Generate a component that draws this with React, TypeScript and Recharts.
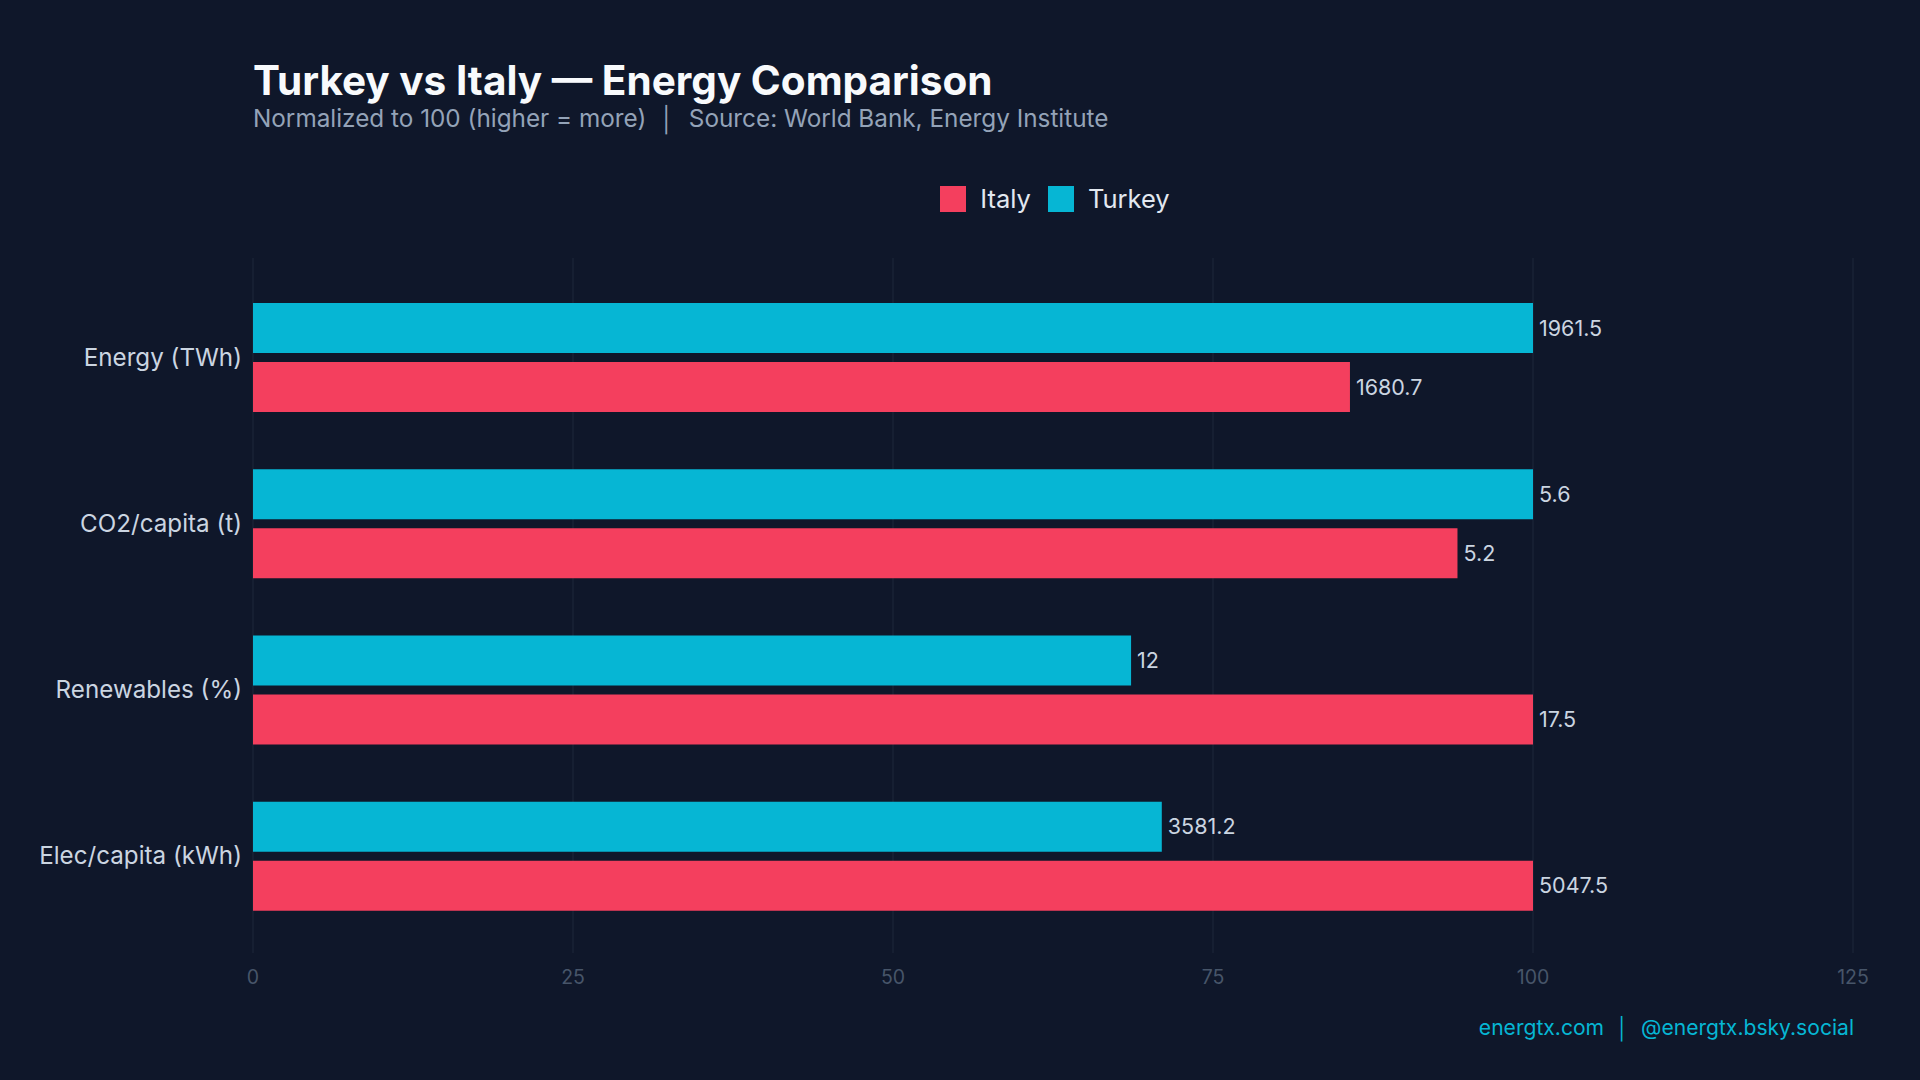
import { Bar, BarChart, CartesianGrid, LabelList, XAxis, YAxis } from "recharts";

const categories = [
  "Energy (TWh)",
  "CO2/capita (t)",
  "Renewables (%)",
  "Elec/capita (kWh)",
];
// normalized scores (leader = 100)
const turkeyScore = [100, 100, 68.6, 71.0];
const italyScore = [85.7, 94.1, 100, 100];
// raw values shown as labels
const turkeyRaw = [1961.5, 5.6, 12, 3581.2];
const italyRaw = [1680.7, 5.2, 17.5, 5047.5];
const xTicks = [0, 25, 50, 75, 100, 125];

const BG = "#0f172a";
const TURKEY = "#06b6d4";
const ITALY = "#f43f5e";
const FONT = "Inter, 'Noto Sans', sans-serif";

const data = categories.map((name, i) => ({
  name,
  turkey: turkeyScore[i],
  italy: italyScore[i],
  turkeyRaw: turkeyRaw[i],
  italyRaw: italyRaw[i],
}));

const legendItems = [
  { label: "Italy", color: ITALY },
  { label: "Turkey", color: TURKEY },
];

export default function App() {
  return (
    <div
      style={{
        position: "absolute",
        left: 0,
        top: 0,
        width: 1920,
        height: 1080,
        background: BG,
        fontFamily: FONT,
        overflow: "hidden",
      }}
    >
      <div
        style={{
          position: "absolute",
          left: 253,
          top: 57,
          fontSize: 40.5,
          fontWeight: 700,
          color: "#f8fafc",
          lineHeight: "48px",
        }}
      >
        Turkey vs Italy — Energy Comparison
      </div>
      <div
        style={{
          position: "absolute",
          left: 253,
          top: 103,
          fontSize: 24.3,
          color: "#94a3b8",
          lineHeight: "30px",
          whiteSpace: "pre",
        }}
      >
        {"Normalized to 100 (higher = more)  │  Source: World Bank, Energy Institute"}
      </div>

      <div
        style={{
          position: "absolute",
          left: 255,
          width: 1600,
          top: 184,
          display: "flex",
          justifyContent: "center",
          alignItems: "center",
          gap: 17,
        }}
      >
        {legendItems.map((item) => (
          <div
            key={item.label}
            style={{ display: "flex", alignItems: "center", gap: 14 }}
          >
            <div style={{ width: 26, height: 26, background: item.color }} />
            <span style={{ fontSize: 25.5, color: "#e2e8f0", lineHeight: "30px" }}>
              {item.label}
            </span>
          </div>
        ))}
      </div>

      <div style={{ position: "absolute", left: 0, top: 0 }}>
        <BarChart
          width={1920}
          height={1080}
          data={data}
          layout="vertical"
          barSize={50}
          barGap={9}
          margin={{ top: 258, right: 67, bottom: 97, left: 13 }}
        >
          <CartesianGrid stroke="#1e293b" horizontal={false} />
          <XAxis
            type="number"
            domain={[0, 125]}
            ticks={xTicks}
            axisLine={false}
            tickLine={false}
            height={30}
            tickMargin={11}
            tick={{ fill: "#475569", fontSize: 19.5, fontFamily: FONT }}
          />
          <YAxis
            type="category"
            dataKey="name"
            width={240}
            axisLine={false}
            tickLine={false}
            tickMargin={5}
            padding={{ top: 16, bottom: 14 }}
            tick={{ fill: "#cbd5e1", fontSize: 24.2, fontFamily: FONT }}
          />
          <Bar dataKey="turkey" name="Turkey" fill={TURKEY} isAnimationActive={false}>
            <LabelList
              dataKey="turkeyRaw"
              position="right"
              offset={6}
              fill="#cbd5e1"
              fontSize={21.5}
              fontFamily={FONT}
            />
          </Bar>
          <Bar dataKey="italy" name="Italy" fill={ITALY} isAnimationActive={false}>
            <LabelList
              dataKey="italyRaw"
              position="right"
              offset={6}
              fill="#cbd5e1"
              fontSize={21.5}
              fontFamily={FONT}
            />
          </Bar>
        </BarChart>
      </div>

      <div
        style={{
          position: "absolute",
          right: 66,
          top: 1013,
          fontSize: 21.1,
          color: TURKEY,
          lineHeight: "30px",
          whiteSpace: "pre",
        }}
      >
        {"energtx.com  │  @energtx.bsky.social"}
      </div>
    </div>
  );
}
